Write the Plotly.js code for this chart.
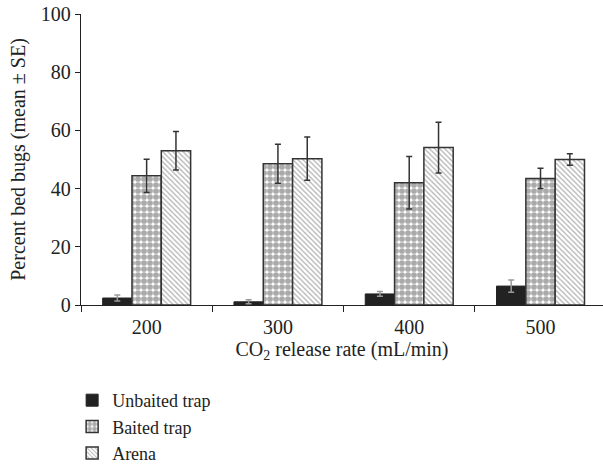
<!DOCTYPE html>
<html>
<head>
<meta charset="utf-8">
<script src="https://cdn.plot.ly/plotly-3.0.1.min.js"></script>
<style>html,body{margin:0;padding:0;background:#fff;}#chart{width:603px;height:469px;}</style>
</head>
<body>
<div id="chart"></div>
<script>
const categories = ["200", "300", "400", "500"];
const unbaited = [2.4, 1.1, 3.8, 6.5];
const unbaitedSE = [1.0, 0.7, 0.8, 2.1];
const baited = [44.4, 48.5, 42.0, 43.5];
const baitedSE = [5.7, 6.7, 9.0, 3.5];
const arena = [53.0, 50.3, 54.1, 50.0];
const arenaSE = [6.6, 7.4, 8.7, 2.0];

const font = "Liberation Serif, Times New Roman, serif";

const traces = [
  {
    type: "bar", name: "Unbaited trap", x: categories, y: unbaited,
    marker: {color: "#222", line: {color: "#222", width: 1}},
    error_y: {type: "data", array: unbaitedSE, visible: true, color: "#999", thickness: 1.5, width: 3}
  },
  {
    type: "bar", name: "Baited trap", x: categories, y: baited,
    marker: {color: "#fff", line: {color: "#333", width: 1.5},
      pattern: {shape: ".", fgcolor: "#555", bgcolor: "#fff", size: 6, solidity: 0.72, fillmode: "overlay"}},
    error_y: {type: "data", array: baitedSE, visible: true, color: "#333", thickness: 1.5, width: 3}
  },
  {
    type: "bar", name: "Arena", x: categories, y: arena,
    marker: {color: "#fff", line: {color: "#333", width: 1.5},
      pattern: {shape: "\\", fgcolor: "#666", bgcolor: "#fff", size: 3.6, solidity: 0.35, fillmode: "overlay"}},
    error_y: {type: "data", array: arenaSE, visible: true, color: "#333", thickness: 1.5, width: 3}
  }
];

const layout = {
  width: 603, height: 469,
  margin: {l: 81, r: 0, t: 14, b: 164},
  paper_bgcolor: "#fff", plot_bgcolor: "#fff",
  font: {family: font, size: 20, color: "#222"},
  barmode: "group",
  bargap: 0.33, bargroupgap: 0,
  showlegend: true,
  legend: {xref: "paper", yref: "container", x: -0.017, y: 0.0896, xanchor: "left", yanchor: "middle",
    orientation: "v",
    font: {family: font, size: 18, color: "#222"}, tracegroupgap: 0, itemwidth: 30,
    bgcolor: "rgba(0,0,0,0)"},
  xaxis: {
    type: "category", range: [-0.5, 3.476],
    showline: true, linecolor: "#222", linewidth: 1.2,
    ticks: "outside", tickson: "boundaries", ticklen: 6, tickcolor: "#222",
    ticklabelstandoff: 4,
    showgrid: false, zeroline: false,
    tickfont: {family: font, size: 20, color: "#222"},
    title: {text: "CO<sub>2</sub> release rate (mL/min)", font: {family: font, size: 20, color: "#222"}, standoff: 3}
  },
  yaxis: {
    range: [0, 100], dtick: 20,
    showline: true, linecolor: "#222", linewidth: 1.2,
    ticks: "outside", ticklen: 5, tickcolor: "#222",
    showgrid: false, zeroline: false,
    tickfont: {family: font, size: 20, color: "#222"},
    title: {text: "Percent bed bugs (mean ± SE)", font: {family: font, size: 20, color: "#222"}, standoff: 9}
  }
};

Plotly.newPlot("chart", traces, layout, {displayModeBar: false, staticPlot: true});
</script>
</body>
</html>
